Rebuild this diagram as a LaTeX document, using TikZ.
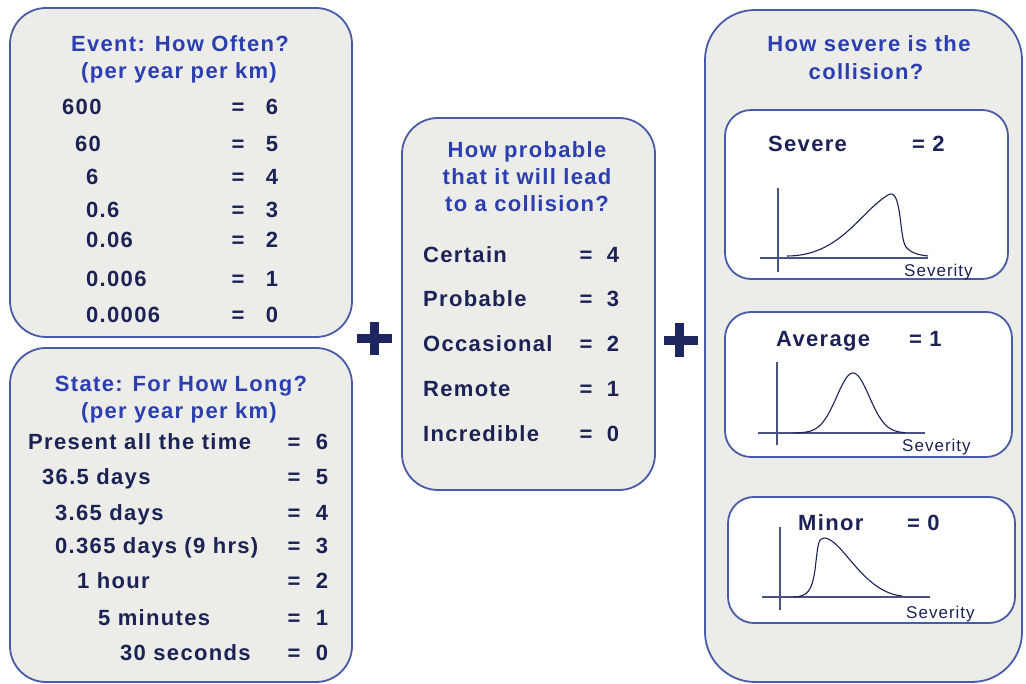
\documentclass[tikz,border=0pt]{standalone}
\usepackage{fontspec}
\setmainfont{Liberation Sans}[LetterSpace=6]
\newfontfamily\sevfont{Liberation Sans}[LetterSpace=6]
\definecolor{boxfill}{HTML}{ECECE8}
\definecolor{boxline}{HTML}{4B5AA8}
\definecolor{titleblue}{HTML}{2B3FB0}
\definecolor{navy}{HTML}{1C2255}
\definecolor{plusnavy}{HTML}{1E2660}
\definecolor{axisgray}{HTML}{4A5282}
\tikzset{
 panel/.style={draw=boxline, line width=1.8pt, fill=boxfill, rounded corners=36pt},
 bigpanel/.style={draw=boxline, line width=1.8pt, fill=boxfill, rounded corners=50pt},
 subpanel/.style={draw=boxline, line width=1.8pt, fill=white, rounded corners=26pt},
 ttl/.style={inner sep=0pt, anchor=base, text=titleblue, font=\fontsize{22}{25}\selectfont\bfseries},
 lbl/.style={inner sep=0pt, anchor=base west, text=navy, font=\fontsize{22}{25}\selectfont\bfseries},
 val/.style={inner sep=0pt, anchor=base, text=navy, font=\fontsize{22}{25}\selectfont\bfseries},
 sev/.style={inner sep=0pt, anchor=base west, text=navy, font=\sevfont\fontsize{17}{19}\selectfont},
 axisline/.style={draw=axisgray, line width=1.4pt},
 curveline/.style={draw=navy, line width=1.1pt},
 plusbar/.style={fill=plusnavy, draw=none},
}
\begin{document}
\begin{tikzpicture}[x=1pt,y=-1pt]
\useasboundingbox (0,0) rectangle (1026,684);
% panels
\path[panel] (10,8) rectangle (352,337);
\path[panel] (10,348) rectangle (352,682);
\path[panel] (402,118) rectangle (655,490);
\path[bigpanel] (705,10) rectangle (1022,682);
\path[subpanel] (725,110) rectangle (1008,279);
\path[subpanel] (725,312) rectangle (1012,457);
\path[subpanel] (728,497) rectangle (1015,623);
% plus signs
\path[plusbar] (357,334) rectangle (392,343);
\path[plusbar] (370,322) rectangle (379,355);
\path[plusbar] (664,336) rectangle (698,345);
\path[plusbar] (675,323) rectangle (684,357);

% Event box
\node[ttl] (et1) at (180,52) {Event: How Often?};
\node[ttl] (et2) at (179,79) {(per year per km)};
\node[lbl] (e6) at (62,115) {600};   \node[val] (e6q) at (238,115) {=}; \node[val] (e6v) at (272,115) {6};
\node[lbl] (e5) at (75,152) {60};    \node[val] (e5q) at (238,152) {=}; \node[val] (e5v) at (272,152) {5};
\node[lbl] (e4) at (86,185) {6};     \node[val] (e4q) at (238,185) {=}; \node[val] (e4v) at (272,185) {4};
\node[lbl] (e3) at (86,218) {0.6};   \node[val] (e3q) at (238,218) {=}; \node[val] (e3v) at (272,218) {3};
\node[lbl] (e2) at (86,248) {0.06};  \node[val] (e2q) at (238,248) {=}; \node[val] (e2v) at (272,248) {2};
\node[lbl] (e1) at (86,287) {0.006}; \node[val] (e1q) at (238,287) {=}; \node[val] (e1v) at (272,287) {1};
\node[lbl] (e0) at (86,323) {0.0006};\node[val] (e0q) at (238,323) {=}; \node[val] (e0v) at (272,323) {0};

% State box
\node[ttl] (st1) at (181,392) {State: For How Long?};
\node[ttl] (st2) at (179,419) {(per year per km)};
\node[lbl] (s6) at (28,450) {Present all the time}; \node[val] (s6q) at (294,450) {=}; \node[val] (s6v) at (322,450) {6};
\node[lbl] (s5) at (42,485) {36.5 days};            \node[val] (s5q) at (294,485) {=}; \node[val] (s5v) at (322,485) {5};
\node[lbl] (s4) at (55,520) {3.65 days};            \node[val] (s4q) at (294,520) {=}; \node[val] (s4v) at (322,520) {4};
\node[lbl] (s3) at (55,553) {0.365 days (9 hrs)};   \node[val] (s3q) at (294,553) {=}; \node[val] (s3v) at (322,553) {3};
\node[lbl] (s2) at (77,588) {1 hour};               \node[val] (s2q) at (294,588) {=}; \node[val] (s2v) at (322,588) {2};
\node[lbl] (s1) at (98,625) {5 minutes};            \node[val] (s1q) at (294,625) {=}; \node[val] (s1v) at (322,625) {1};
\node[lbl] (s0) at (120,660) {30 seconds};          \node[val] (s0q) at (294,660) {=}; \node[val] (s0v) at (322,660) {0};

% Probability box
\node[ttl] (pt1) at (527,158) {How probable};
\node[ttl] (pt2) at (527,185) {that it will lead};
\node[ttl] (pt3) at (527,212) {to a collision?};
\node[lbl] (p4) at (423,263) {Certain};    \node[val] (p4q) at (586,263) {=}; \node[val] (p4v) at (613,263) {4};
\node[lbl] (p3) at (423,307) {Probable};   \node[val] (p3q) at (586,307) {=}; \node[val] (p3v) at (613,307) {3};
\node[lbl] (p2) at (423,352) {Occasional}; \node[val] (p2q) at (586,352) {=}; \node[val] (p2v) at (613,352) {2};
\node[lbl] (p1) at (423,397) {Remote};     \node[val] (p1q) at (586,397) {=}; \node[val] (p1v) at (613,397) {1};
\node[lbl] (p0) at (423,442) {Incredible}; \node[val] (p0q) at (586,442) {=}; \node[val] (p0v) at (613,442) {0};

% Severity box
\node[ttl] (vt1) at (869,52) {How severe is the};
\node[ttl] (vt2) at (866,80) {collision?};

\node[lbl] (v2) at (768,152) {Severe};
\node[lbl] (v2v) at (912,152) {= 2};
\path[axisline] (778,188) -- (778,272);
\path[axisline] (760,258) -- (928,258);
\path[curveline] (787,256) .. controls (840,256) and (860,212) .. (888,195)
  .. controls (902,186) and (899,238) .. (906,247)
  .. controls (912,254) and (920,255) .. (928,256);
\node[sev] (v2s) at (904,277) {Severity};

\node[lbl] (v1) at (776,347) {Average};
\node[lbl] (v1v) at (909,347) {= 1};
\path[axisline] (777,362) -- (777,445);
\path[axisline] (758,433) -- (925,433);
\path[curveline] plot[domain=793:905, samples=80] (\x, {433-60*exp(-((\x-853)/23)^2)});
\node[sev] (v1s) at (902,452) {Severity};

\node[lbl] (v0) at (798,530) {Minor};
\node[lbl] (v0v) at (907,530) {= 0};
\path[axisline] (780,527) -- (780,610);
\path[axisline] (762,597) -- (930,597);
\path[curveline] (793,597) .. controls (808,597) and (812,590) .. (815,570)
  .. controls (818,545) and (818,538) .. (824,538)
  .. controls (842,538) and (862,592) .. (902,596);
\node[sev] (v0s) at (906,618) {Severity};
\end{tikzpicture}
\end{document}
